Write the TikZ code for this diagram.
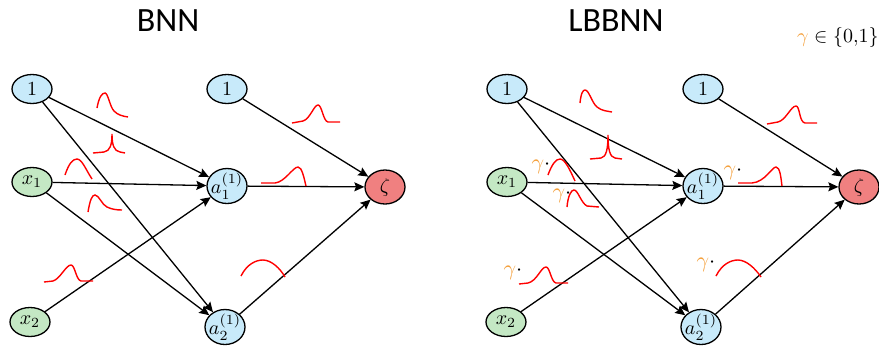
\documentclass[tikz,border=0pt]{standalone}
\usepackage{fontspec}
\newfontfamily\titlefont{Carlito}
\usetikzlibrary{arrows.meta,shapes.geometric}
\definecolor{biasblue}{RGB}{200,234,250}
\definecolor{inputgreen}{RGB}{196,232,196}
\definecolor{outputred}{RGB}{240,128,128}
\definecolor{gammaorange}{RGB}{244,160,60}
\tikzset{
  neuron/.style={ellipse, draw, line width=0.65pt, minimum width=20pt, minimum height=14.5pt, inner sep=-2pt, font=\fontsize{10}{12}\selectfont},
  bias/.style={neuron, fill=biasblue},
  input/.style={neuron, fill=inputgreen},
  hidden/.style={neuron, fill=biasblue, minimum height=17.5pt},
  output/.style={neuron, fill=outputred, minimum height=17pt},
  conn/.style={line width=0.65pt, -{Stealth[length=5pt,width=4.5pt,inset=0.8pt]}},
  dist/.style={red, line width=0.7pt},
  gate/.style={inner sep=0pt, font=\fontsize{11}{12}\selectfont},
  title/.style={inner sep=0pt, font=\titlefont\fontsize{17}{20}\selectfont}
}

\begin{document}
\begin{tikzpicture}[x=0.5pt,y=-0.5pt]
	\useasboundingbox (0,0) rectangle (879,345);
	% titles
	\node[title] (tbnn) at (168,21) {BNN};
	\node[title] (tlbbnn) at (616,21) {LBBNN};
	\node[gate, anchor=east, font=\fontsize{10}{12}\selectfont] (gset) at (879,37) {$\textcolor{gammaorange}{\gamma}\in\{0{,}1\}$};

	% BNN
	\node[bias] (b1) at (32,89) {$1$};
	\node[input] (bx1) at (32,182) {$x_1$};
	\node[input] (bx2) at (30,322) {$x_2$};
	\node[bias] (bh1) at (227,89) {$1$};
	\node[hidden] (ba1) at (227,186) {$a_1^{(1)}$};
	\node[hidden] (ba2) at (225,327) {$a_2^{(1)}$};
	\node[output] (bz) at (385,187) {$\zeta$};
	\draw[conn] (b1) -- (ba1);
	\draw[conn] (b1) -- (ba2);
	\draw[conn] (bx1) -- (ba1);
	\draw[conn] (bx1) -- (ba2);
	\draw[conn] (bx2) -- (ba1);
	\draw[conn] (bh1) -- (bz);
	\draw[conn] (ba1) -- (bz);
	\draw[conn] (ba2) -- (bz);
	% weight distributions
	\draw[dist] (97,108) .. controls (99,97) and (102,93) .. (105,93) .. controls (108,93) and (110,107) .. (114,111) .. controls (118,115) and (122,116) .. (128,117);
	\draw[dist] (93,153) -- (104,152) .. controls (110,151) and (112,145) .. (112,134) .. controls (112,145) and (114,151) .. (120,152) -- (125,153);
	\draw[dist] (65,175) .. controls (69,163) and (73,159) .. (77,159) .. controls (82,159) and (86,170) .. (92,179);
	\draw[dist] (88,212) .. controls (90,200) and (92,195) .. (95,195) .. controls (99,195) and (102,205) .. (107,207) .. controls (111,209) and (116,210) .. (122,210);
	\draw[dist] (44,282) -- (53,281) .. controls (60,279) and (66,265) .. (71,265) .. controls (75,265) and (76,280) .. (81,281) -- (93,281);
	\draw[dist] (292,123) -- (303,121) .. controls (310,119) and (314,105) .. (318,105) .. controls (322,105) and (323,121) .. (328,122) -- (340,122);
	\draw[dist] (261,183) -- (275,183) .. controls (285,182) and (293,167) .. (298,167) .. controls (302,167) and (304,178) .. (306,186);
	\draw[dist] (241,276) .. controls (247,264) and (256,260) .. (263,260) .. controls (271,260) and (280,268) .. (285,277);

	% LBBNN
	\node[bias] (l1) at (507,89) {$1$};
	\node[input] (lx1) at (507,182) {$x_1$};
	\node[input] (lx2) at (506,322) {$x_2$};
	\node[bias] (lh1) at (703,89) {$1$};
	\node[hidden] (la1) at (703,186) {$a_1^{(1)}$};
	\node[hidden] (la2) at (701,327) {$a_2^{(1)}$};
	\node[output] (lz) at (859,187) {$\zeta$};
	\draw[conn] (l1) -- (la1);
	\draw[conn] (l1) -- (la2);
	\draw[conn] (lx1) -- (la1);
	\draw[conn] (lx1) -- (la2);
	\draw[conn] (lx2) -- (la1);
	\draw[conn] (lh1) -- (lz);
	\draw[conn] (la1) -- (lz);
	\draw[conn] (la2) -- (lz);
	% weight distributions with gates
	\draw[dist] (580,103) .. controls (581,93) and (583,90) .. (585,90) .. controls (589,90) and (592,103) .. (597,107) .. controls (602,111) and (607,111) .. (612,112);
	\draw[dist] (590,159) -- (601,158) .. controls (606,157) and (608,150) .. (608,135) .. controls (608,150) and (610,157) .. (615,158) -- (622,159);
	\draw[dist] (548,175) .. controls (552,164) and (556,159) .. (560,159) .. controls (565,159) and (570,170) .. (575,181);
	\draw[dist] (567,207) .. controls (568,196) and (571,190) .. (574,190) .. controls (578,190) and (581,203) .. (587,206) -- (599,207);
	\draw[dist] (519,284) -- (528,283) .. controls (537,281) and (541,267) .. (546,267) .. controls (550,267) and (551,282) .. (556,283) -- (568,283);
	\draw[dist] (767,124) -- (778,122) .. controls (786,120) and (791,106) .. (796,106) .. controls (800,106) and (799,122) .. (805,123) -- (817,123);
	\draw[dist] (738,183) -- (752,183) .. controls (765,182) and (772,167) .. (776,167) .. controls (780,167) and (781,178) .. (782,186);
	\draw[dist] (716,276) .. controls (722,264) and (731,260) .. (738,260) .. controls (746,260) and (755,268) .. (761,277);
	\node[gate] (g1) at (541,167) {$\textcolor{gammaorange}{\gamma}\cdot$};
	\node[gate] (g2) at (562,196) {$\textcolor{gammaorange}{\gamma}\cdot$};
	\node[gate] (g3) at (513,273) {$\textcolor{gammaorange}{\gamma}\cdot$};
	\node[gate] (g4) at (733,173) {$\textcolor{gammaorange}{\gamma}\cdot$};
	\node[gate] (g5) at (706,265) {$\textcolor{gammaorange}{\gamma}\cdot$};
\end{tikzpicture}
\end{document}
